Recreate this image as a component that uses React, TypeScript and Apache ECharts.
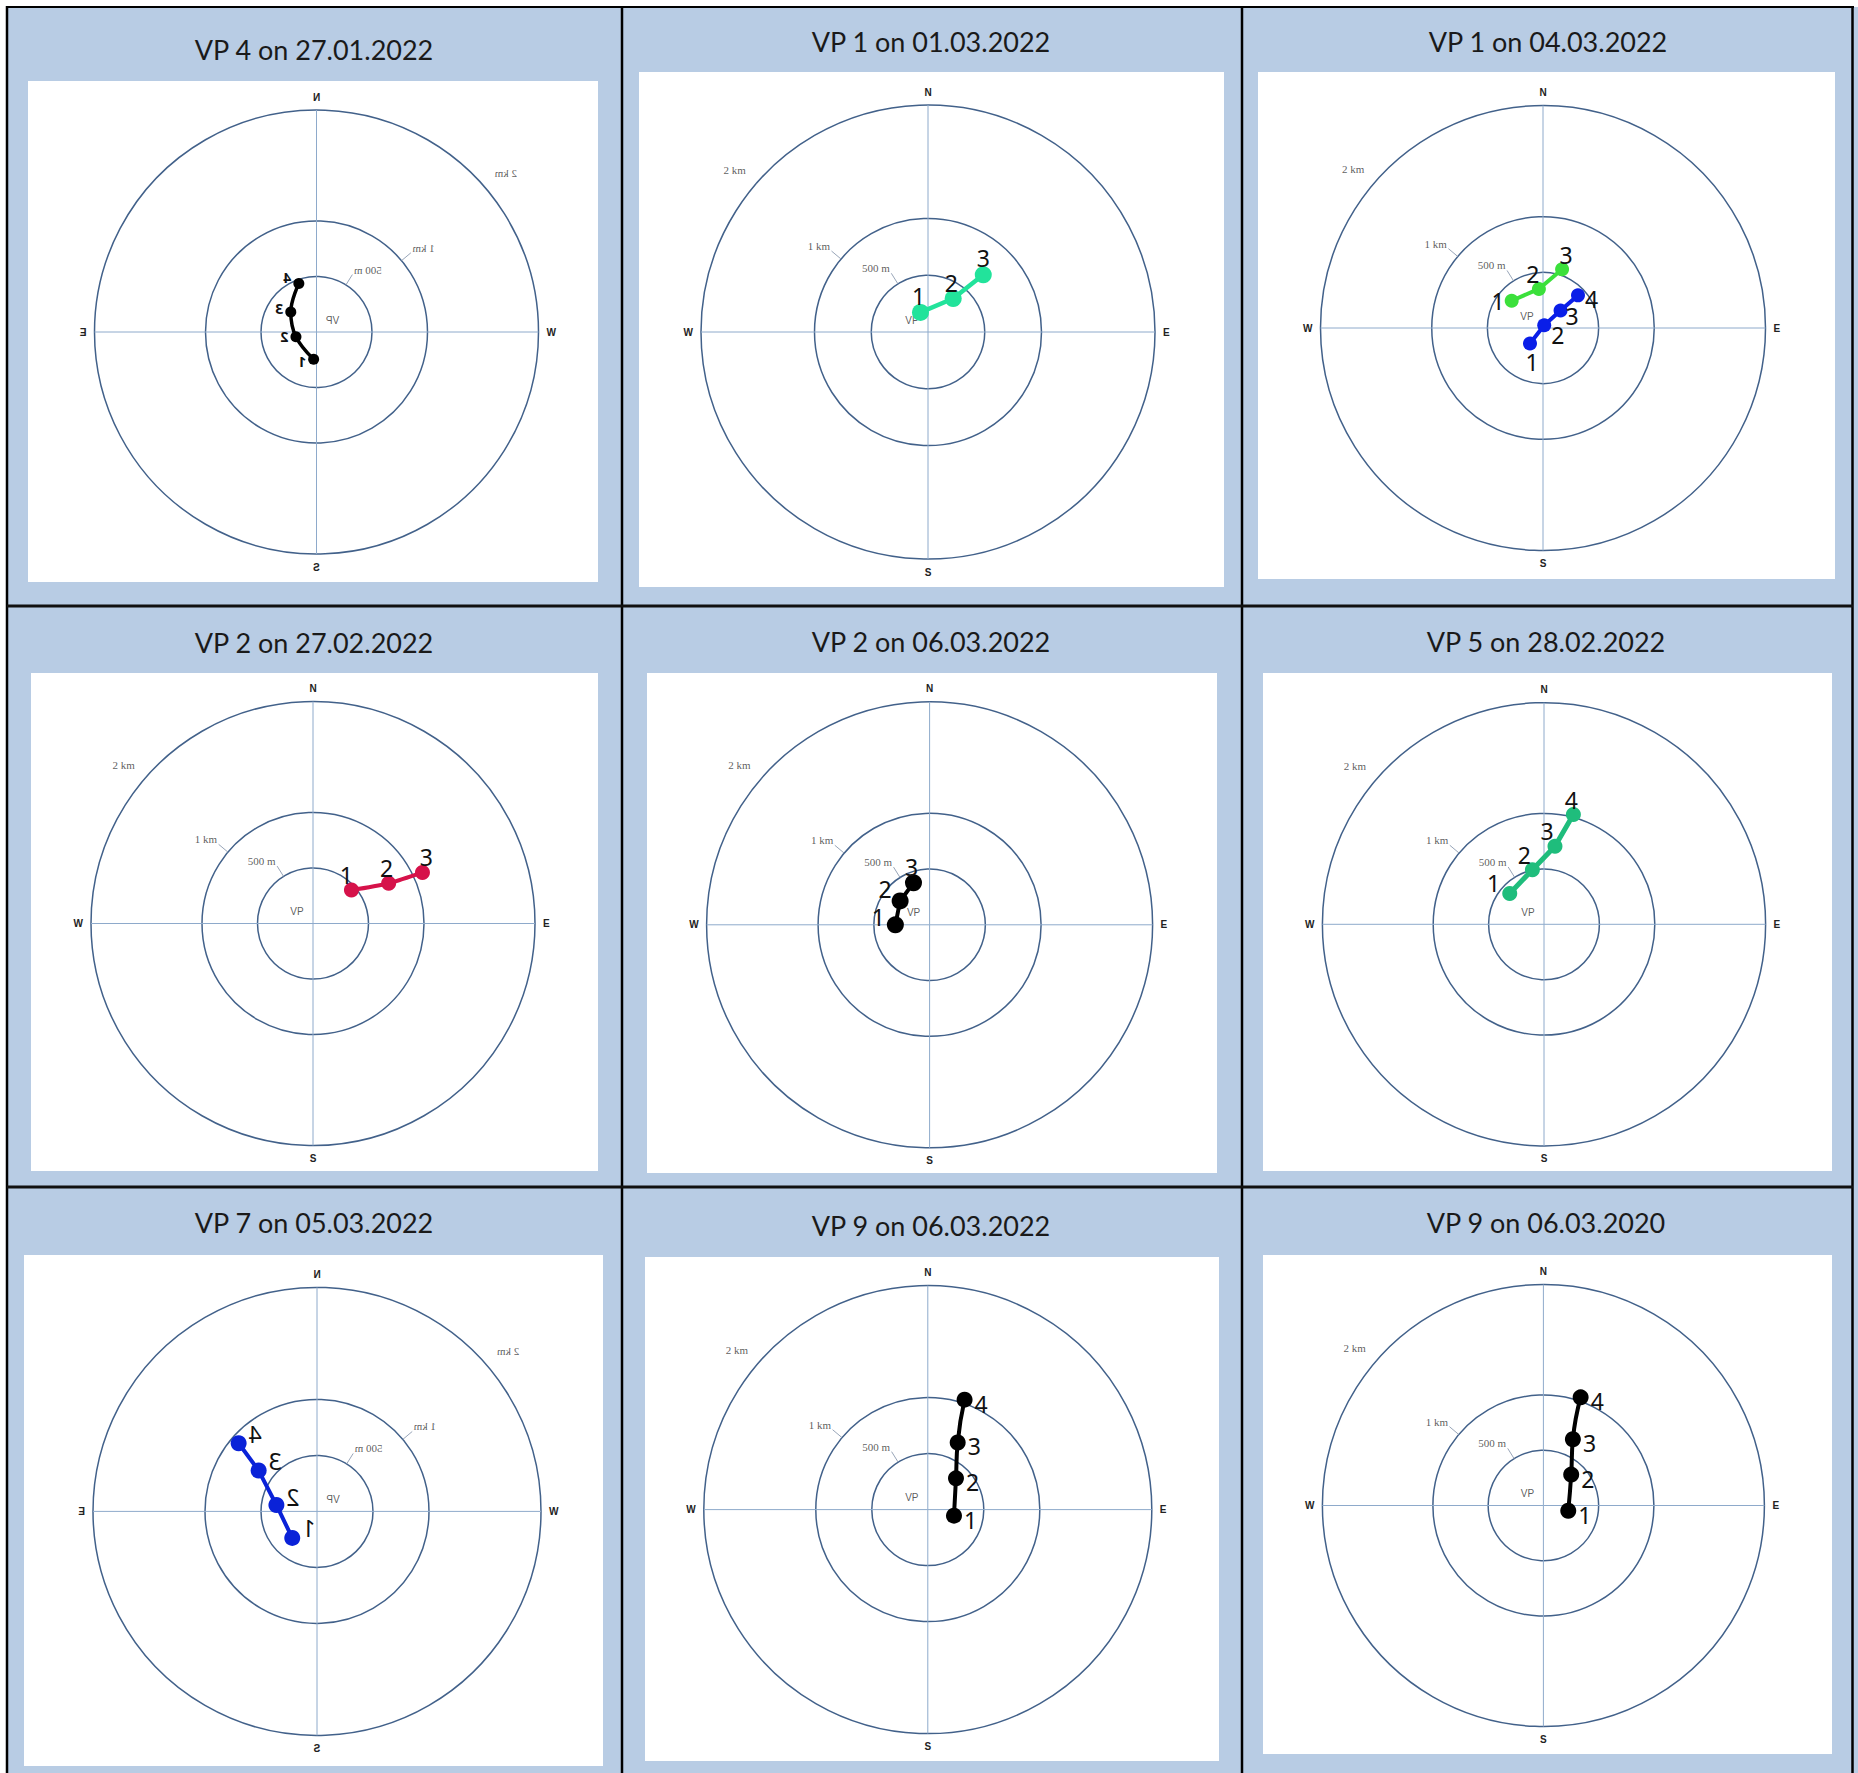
import React, { useEffect, useRef } from 'react';
import * as echarts from 'echarts';

const PAGE_W = 1858;
const PAGE_H = 1773;

// ---------- text ----------
const TITLES = [
  'VP 4 on 27.01.2022', 'VP 1 on 01.03.2022', 'VP 1 on 04.03.2022',
  'VP 2 on 27.02.2022', 'VP 2 on 06.03.2022', 'VP 5 on 28.02.2022',
  'VP 7 on 05.03.2022', 'VP 9 on 06.03.2022', 'VP 9 on 06.03.2020',
];
const COMPASS = ['N', 'E', 'S', 'W'];
const RING_VALUES = [500, 1000, 2000];
const RING_LABELS = ['500 m', '1 km', '2 km'];
const RING_LABEL_BEARINGS = [328, 310, 311];
const POINT_LABELS = ['1', '2', '3', '4'];
const CENTER_LABEL = 'VP';

// ---------- data: distance from VP (m) and bearing (deg, clockwise from N) ----------
const P1_DIST = [247, 190, 294, 465];
const P1_BEAR = [174, 103, 52, 20];
const P2_DIST = [185, 369, 701];
const P2_BEAR = [339, 37, 44];
const P3A_DIST = [373, 353, 555];
const P3A_BEAR = [311, 354, 18];
const P3B_DIST = [182, 27, 223, 430];
const P3B_BEAR = [220, 24, 45, 47];
const P4_DIST = [459, 772, 1088];
const P4_BEAR = [49, 62, 65];
const P5_DIST = [307, 340, 403];
const P5_BEAR = [270, 309, 339];
const P6_DIST = [416, 503, 712, 1025];
const P6_BEAR = [312, 348, 8, 15];
const P7_DIST = [324, 367, 636, 927];
const P7_BEAR = [137, 81, 55, 49];
const P8_DIST = [240, 376, 656, 1035];
const P8_BEAR = [103, 42, 24, 18.5];
const P9_DIST = [230, 376, 656, 1035];
const P9_BEAR = [102, 42, 24, 19];

// ---------- styles / layout ----------
const BG_BLUE = '#b8cce4';
const RING_COLOR = '#42618a';
const CROSS_COLOR = '#8eaacb';
const LEADER_M = 110;

type Track = {
  dist: number[]; bear: number[]; color: string; size: number; width: number;
  smooth: number | boolean; font: number; bold?: boolean; labels: [string, number, number][];
};
type Panel = { rect: number[]; center: number[]; radius: number; mirror: boolean; tracks: Track[] };

const PANELS: Panel[] = [
  { rect: [28, 81, 570, 501], center: [288.5, 251], radius: 222, mirror: true, tracks: [
    { dist: P1_DIST, bear: P1_BEAR, color: '#000000', size: 11, width: 3.5, smooth: 0.4, font: 14, bold: true,
      labels: [['right', 0, 2], ['right', 0, 0], ['right', 0, -3], ['right', 0, -6]] },
  ] },
  { rect: [639, 72, 585, 515], center: [289, 260], radius: 227, mirror: false, tracks: [
    { dist: P2_DIST, bear: P2_BEAR, color: '#22e39b', size: 17, width: 4.5, smooth: false, font: 23,
      labels: [['top', -2, 6], ['top', -2, 6], ['top', 0, 5]] },
  ] },
  { rect: [1258, 72, 577, 507], center: [285, 256], radius: 222.5, mirror: false, tracks: [
    { dist: P3A_DIST, bear: P3A_BEAR, color: '#3be03b', size: 14, width: 4, smooth: false, font: 23,
      labels: [['left', 2, 0], ['top', -6, 6], ['top', 4, 6]] },
    { dist: P3B_DIST, bear: P3B_BEAR, color: '#0a1ee8', size: 14, width: 4, smooth: false, font: 23,
      labels: [['bottom', 2, -2], ['right', -2, 10], ['right', -4, 6], ['right', -2, 4]] },
  ] },
  { rect: [31, 673, 567, 498], center: [282, 250.5], radius: 222, mirror: false, tracks: [
    { dist: P4_DIST, bear: P4_BEAR, color: '#d6124a', size: 15, width: 4, smooth: 0.3, font: 23,
      labels: [['top', -5, 6], ['top', -2, 6], ['top', 4, 6]] },
  ] },
  { rect: [647, 673, 570, 500], center: [282.6, 251.8], radius: 223, mirror: false, tracks: [
    { dist: P5_DIST, bear: P5_BEAR, color: '#000000', size: 17, width: 4, smooth: false, font: 23,
      labels: [['left', 0, -8], ['left', 2, -12], ['top', -2, 6]] },
  ] },
  { rect: [1263, 673, 569, 498], center: [281, 251.3], radius: 221.6, mirror: false, tracks: [
    { dist: P6_DIST, bear: P6_BEAR, color: '#1fbd7c', size: 15, width: 5, smooth: false, font: 23,
      labels: [['left', 0, -10], ['top', -8, 6], ['top', -8, 6], ['top', -2, 6]] },
  ] },
  { rect: [24, 1255, 579, 511], center: [293, 256.4], radius: 224, mirror: true, tracks: [
    { dist: P7_DIST, bear: P7_BEAR, color: '#0a22d8', size: 16, width: 4, smooth: false, font: 23,
      labels: [['left', 0, -10], ['left', 0, -8], ['left', 0, -10], ['left', 0, -9]] },
  ] },
  { rect: [645, 1257, 574, 504], center: [282.8, 252.6], radius: 224, mirror: false, tracks: [
    { dist: P8_DIST, bear: P8_BEAR, color: '#000000', size: 16, width: 4, smooth: 0.5, font: 23,
      labels: [['right', 0, 4], ['right', 0, 4], ['right', 0, 4], ['right', 0, 4]] },
  ] },
  { rect: [1263, 1255, 569, 499], center: [280.4, 250.5], radius: 221, mirror: false, tracks: [
    { dist: P9_DIST, bear: P9_BEAR, color: '#000000', size: 16, width: 4, smooth: 0.5, font: 23,
      labels: [['right', 0, 4], ['right', 0, 4], ['right', 0, 4], ['right', 0, 4]] },
  ] },
];

const V_LINES = [7, 622, 1242, 1852.5];
const H_LINES = [606, 1187];
const TOP_LINE = 7;
const TITLE_POS = [
  [314, 49], [931, 41], [1548, 41],
  [314, 642], [931, 641], [1546, 641],
  [314, 1222], [931, 1225], [1546, 1222],
];

function buildBackgroundOption() {
  const graphic: any[] = [];
  graphic.push({ type: 'rect', shape: { x: 7, y: 7, width: PAGE_W - 7, height: PAGE_H - 7 }, style: { fill: BG_BLUE }, z: 0 });
  graphic.push({ type: 'line', shape: { x1: 6, y1: TOP_LINE, x2: 1854, y2: TOP_LINE }, style: { stroke: '#000', lineWidth: 2.2 }, z: 5 });
  V_LINES.forEach((x) => graphic.push({ type: 'line', shape: { x1: x, y1: 6, x2: x, y2: PAGE_H }, style: { stroke: '#000', lineWidth: 2.5 }, z: 5 }));
  H_LINES.forEach((y) => graphic.push({ type: 'line', shape: { x1: 7, y1: y, x2: 1853, y2: y }, style: { stroke: '#111', lineWidth: 3 }, z: 5 }));
  TITLES.forEach((t, i) => graphic.push({
    type: 'text', x: TITLE_POS[i][0], y: TITLE_POS[i][1], z: 6,
    style: { text: t, fontFamily: 'Lato', fontSize: 27, fill: '#1a1a1a', align: 'center', verticalAlign: 'middle', textAlign: 'center', textVerticalAlign: 'middle' },
  }));
  return { animation: false, graphic };
}

function buildPlotOption(p: Panel) {
  const w = p.rect[2];
  const cx = p.mirror ? w - p.center[0] : p.center[0];
  const series: any[] = [];
  RING_VALUES.forEach((r, i) => series.push({
    type: 'line', coordinateSystem: 'polar', symbol: 'none', silent: true, clip: false, z: 1,
    data: [[r, RING_LABEL_BEARINGS[i]], [r + LEADER_M, RING_LABEL_BEARINGS[i]]],
    lineStyle: { color: '#8c9bb0', width: 0.9 },
  }));
  series.push({
    type: 'scatter', coordinateSystem: 'polar', symbolSize: 1, silent: true, clip: false, z: 2,
    itemStyle: { color: 'rgba(0,0,0,0)' },
    data: RING_VALUES.map((r, i) => ({ name: RING_LABELS[i], value: [r + LEADER_M, RING_LABEL_BEARINGS[i]] })),
    label: { show: true, position: 'left', distance: 1, offset: [0, -5], formatter: '{b}', fontFamily: 'Liberation Serif', fontSize: 11, color: '#333' },
  });
  series.push({
    type: 'scatter', coordinateSystem: 'polar', symbolSize: 1, silent: true, z: 2,
    itemStyle: { color: 'rgba(0,0,0,0)' },
    data: [{ name: CENTER_LABEL, value: [0, 0] }],
    label: { show: true, position: 'inside', offset: [-16, -12], formatter: '{b}', fontFamily: 'Liberation Sans', fontSize: 10, color: '#333' },
  });
  p.tracks.forEach((t) => series.push({
    type: 'line', coordinateSystem: 'polar', smooth: t.smooth, symbol: 'circle', symbolSize: t.size,
    showAllSymbol: true, clip: false, z: 5,
    data: t.dist.map((d, i) => ({
      name: POINT_LABELS[i], value: [d, t.bear[i]],
      label: { position: t.labels[i][0], offset: [t.labels[i][1], t.labels[i][2]] },
    })),
    itemStyle: { color: t.color },
    lineStyle: { color: t.color, width: t.width },
    label: { show: true, formatter: '{b}', distance: 2, fontFamily: 'Noto Sans', fontSize: t.font, fontWeight: t.bold ? 'bold' : 'normal', color: '#111' },
  }));
  return {
    animation: false,
    backgroundColor: '#ffffff',
    polar: { center: [cx, p.center[1]], radius: p.radius },
    angleAxis: {
      type: 'value', min: 0, max: 360, interval: 90, startAngle: 90, clockwise: true,
      axisLine: { show: false }, axisTick: { show: false },
      splitLine: { show: true, lineStyle: { color: CROSS_COLOR, width: 1 } },
      axisLabel: {
        show: true, margin: 8, fontFamily: 'Liberation Sans', fontWeight: 'bold', fontSize: 10, color: '#222',
        formatter: (v: number) => (v >= 360 ? '' : COMPASS[Math.round(v / 90)] || ''),
      },
    },
    radiusAxis: {
      type: 'value', min: 0, max: 2000, interval: 500,
      axisLine: { show: false }, axisTick: { show: false }, axisLabel: { show: false },
      splitLine: { show: true, lineStyle: { color: ['rgba(0,0,0,0)', RING_COLOR, RING_COLOR, 'rgba(0,0,0,0)', RING_COLOR], width: 1.5 } },
    },
    series,
  };
}

function EChart({ option, style }: { option: any; style: React.CSSProperties }) {
  const ref = useRef<HTMLDivElement>(null);
  useEffect(() => {
    if (!ref.current) return;
    const chart = echarts.init(ref.current, null, { renderer: 'svg' });
    chart.setOption(option);
    return () => chart.dispose();
  }, [option]);
  return <div ref={ref} style={style} />;
}

const BG_OPTION = buildBackgroundOption();
const PLOT_OPTIONS = PANELS.map(buildPlotOption);

export default function App() {
  return (
    <div style={{ position: 'absolute', left: 0, top: 0, width: PAGE_W, height: PAGE_H, background: '#fff', overflow: 'hidden' }}>
      <EChart option={BG_OPTION} style={{ position: 'absolute', left: 0, top: 0, width: PAGE_W, height: PAGE_H }} />
      {PANELS.map((p, i) => (
        <EChart
          key={i}
          option={PLOT_OPTIONS[i]}
          style={{
            position: 'absolute', left: p.rect[0], top: p.rect[1], width: p.rect[2], height: p.rect[3],
            transform: p.mirror ? 'scaleX(-1)' : undefined,
          }}
        />
      ))}
    </div>
  );
}
